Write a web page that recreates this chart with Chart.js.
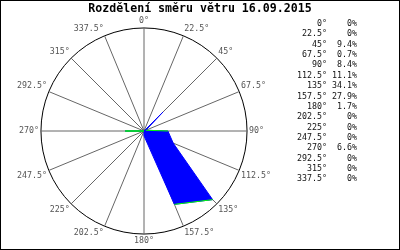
<!DOCTYPE html>
<html>
<head>
<meta charset="utf-8">
<script src="https://cdn.jsdelivr.net/npm/chart.js@4"></script>
<style>
    body { margin: 0; background: #fff; }
    #wrap { position: relative; width: 400px; height: 250px; }
    #frame { position: absolute; left: 0; top: 0; width: 400px; height: 250px; box-sizing: border-box; border: 1px solid #000; pointer-events: none; }
    #title { position: absolute; left: 0; top: 1px; width: 400px; text-align: center; font: bold 11.6px 'DejaVu Sans Mono', monospace; color: #000; line-height: 14px; }
    #legend { position: absolute; left: 280px; top: 18px; font: 8.3px 'DejaVu Sans Mono', monospace; color: #111; }
    #legend .row { height: 10.36px; line-height: 10.36px; white-space: pre; }
    #legend .dir { display: inline-block; width: 47px; text-align: right; }
    #legend .pct { display: inline-block; width: 30px; text-align: right; }
</style>
</head>
<body>
<div id="wrap">
    <canvas id="windChart" width="400" height="250"></canvas>
    <div id="title"></div>
    <div id="legend"></div>
    <div id="frame"></div>
</div>
<script>
// ===== DATI =====
const titolo = 'Rozdělení směru větru 16.09.2015';
const direzioni = ['0°', '22.5°', '45°', '67.5°', '90°', '112.5°', '135°', '157.5°',
    '180°', '202.5°', '225°', '247.5°', '270°', '292.5°', '315°', '337.5°'];
const percentuali = [0, 0, 9.4, 0.7, 8.4, 11.1, 34.1, 27.9, 1.7, 0, 0, 0, 6.6, 0, 0, 0];
const scalaMax = 36.2;
// direzioni il cui bordo appare verde nell'originale
const indiciVerdi = [3, 4, 6, 7, 11, 12, 13];

document.getElementById('title').textContent = titolo;

// Legenda a destra (testo reale)
const legend = document.getElementById('legend');
direzioni.forEach((d, i) => {
    const row = document.createElement('div');
    row.className = 'row';
    const v = percentuali[i];
    row.innerHTML = `<span class="dir">${d}</span><span class="pct">${v === 0 ? '0' : v.toFixed(1)}%</span>`;
    legend.appendChild(row);
});

const GREEN = '#00ff00';
const BLUE = '#0000ff';

new Chart(document.getElementById('windChart'), {
    type: 'radar',
    data: {
        labels: direzioni,
        datasets: [
            {
                data: percentuali,
                backgroundColor: BLUE,
                borderColor: BLUE,
                borderWidth: 1,
                fill: true,
                pointRadius: 0,
                tension: 0,
                order: 1
            },
            {
                // tratti verdi del bordo (disegnati sopra)
                data: percentuali.map((v, i) => indiciVerdi.includes(i) ? v : null),
                borderColor: GREEN,
                backgroundColor: 'transparent',
                borderWidth: 1,
                fill: false,
                spanGaps: false,
                pointRadius: 0,
                tension: 0,
                order: 0
            }
        ]
    },
    options: {
        responsive: false,
        animation: false,
        layout: { padding: { left: 0, right: 112, top: 16, bottom: 4 } },
        plugins: {
            legend: { display: false },
            tooltip: { enabled: false }
        },
        scales: {
            r: {
                min: 0,
                max: scalaMax,
                ticks: { display: false, stepSize: scalaMax },
                grid: { circular: true, color: '#000', lineWidth: 1 },
                angleLines: { color: '#666', lineWidth: 1 },
                pointLabels: {
                    color: '#555',
                    padding: 2,
                    font: { family: "'DejaVu Sans Mono', monospace", size: 8.3 }
                }
            }
        }
    }
});
</script>
</body>
</html>
